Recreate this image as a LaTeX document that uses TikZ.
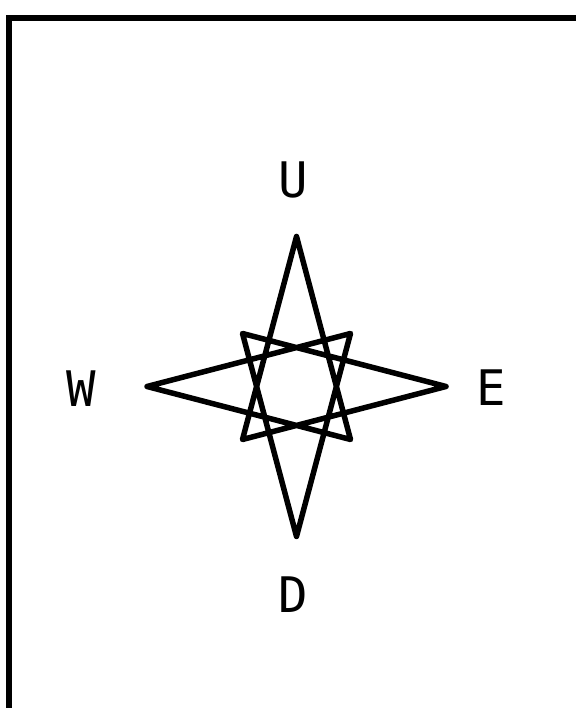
\documentclass[tikz,border=0pt]{standalone}
\usepackage{fontspec}
\usetikzlibrary{calc}
\newfontfamily\plotfont{DejaVu Sans Mono}
\begin{document}
\begin{tikzpicture}[x=1pt,y=1pt,
  frameline/.style={line width=6.5pt,line join=miter},
  starline/.style={line width=5.5pt,line join=round,line cap=round},
  lbl/.style={inner sep=0pt,font=\plotfont\fontsize{49}{50}\selectfont}]
\useasboundingbox (0,0) rectangle (575,708);
% frame (right and bottom edges lie outside the picture)
\draw[frameline] (9,-10) -- (9,690) -- (585,690);
% star vertices
\coordinate (c) at (296.5,321.5);
\coordinate (pU) at ($(c)+(0,150)$);
\coordinate (pD) at ($(c)+(0,-150)$);
\coordinate (pW) at ($(c)+(-149.5,0)$);
\coordinate (pE) at ($(c)+(149.5,0)$);
\coordinate (pUL) at ($(c)+(-54,53)$);
\coordinate (pUR) at ($(c)+(54,53)$);
\coordinate (pDL) at ($(c)+(-54,-53)$);
\coordinate (pDR) at ($(c)+(54,-53)$);
\draw[starline] (pU) -- (pDL) -- (pE) -- (pUL) -- (pD) -- (pUR) -- (pW) -- (pDR) -- cycle;
% labels
\node[lbl] (U) at (293.5,528) {U};
\node[lbl] (W) at (81,319) {W};
\node[lbl] (E) at (491,320.5) {E};
\node[lbl] (D) at (293,113) {D};
\end{tikzpicture}
\end{document}
